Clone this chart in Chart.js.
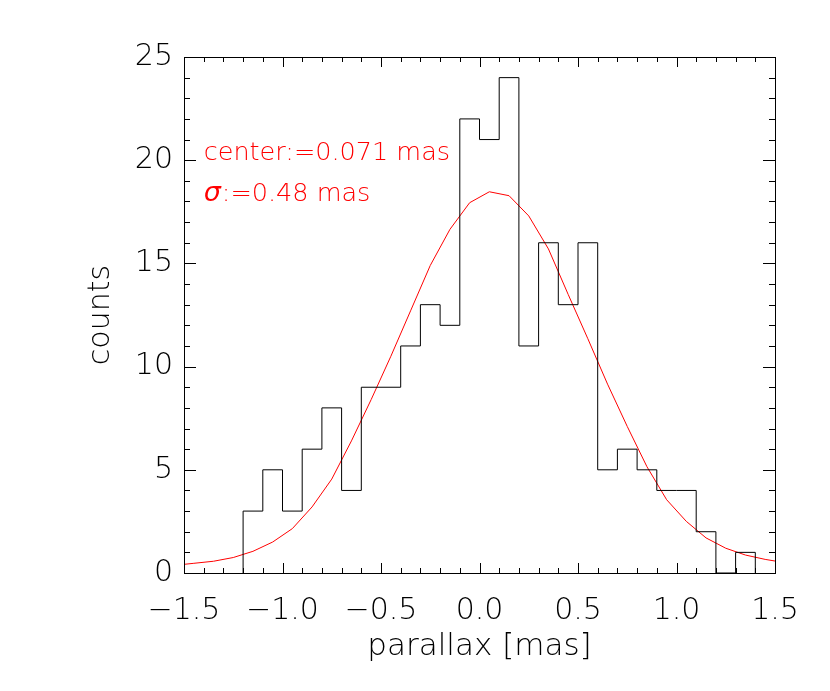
<!DOCTYPE html>
<html>
<head>
<meta charset="utf-8">
<script src="https://cdn.jsdelivr.net/npm/chart.js@4"></script>
<style>
  body { margin: 0; background: #fff; }
  #wrap { width: 830px; height: 691px; }
</style>
</head>
<body>
<div id="wrap"><canvas id="hist" width="830" height="691"></canvas></div>
<script>
// Histogram of parallaxes (bin width 0.1 mas)
const binEdges = [-1.2, -1.1, -1.0, -0.9, -0.8, -0.7, -0.6, -0.5, -0.4, -0.3, -0.2, -0.1,
  0.0, 0.1, 0.2, 0.3, 0.4, 0.5, 0.6, 0.7, 0.8, 0.9, 1.0, 1.1, 1.2, 1.3, 1.4];
const binCounts = [3, 5, 3, 6, 8, 4, 9, 9, 11, 13, 12, 22, 21, 24, 11, 16, 13, 16, 5, 6, 5, 4, 4, 2, 0, 1];

// Gaussian fit curve
const fitX = [-1.5, -1.45, -1.35, -1.25, -1.15, -1.05, -0.95, -0.85, -0.75, -0.65, -0.55, -0.45,
  -0.35, -0.25, -0.15, -0.05, 0.05, 0.15, 0.25, 0.35, 0.45, 0.55, 0.65, 0.75, 0.85, 0.95,
  1.05, 1.15, 1.25, 1.35, 1.45, 1.5];
const fitY = [0.42, 0.47, 0.57, 0.75, 1.05, 1.5, 2.15, 3.2, 4.55, 6.4, 8.4, 10.5,
  12.7, 14.9, 16.65, 17.94, 18.47, 18.28, 17.3, 15.7, 13.5, 11.35, 9.15, 7.1, 5.15, 3.55,
  2.5, 1.7, 1.2, 0.87, 0.66, 0.58];

const xRange = [-1.5, 1.5];
const yRange = [0, 25];
const fitLabels = ['center:=0.071 mas', ':=0.48 mas'];

const FONT = "'DejaVu Sans', sans-serif";

// step outline: rise at first edge, drop after last bin
const histPoints = [{ x: binEdges[0], y: 0 }];
binCounts.forEach((c, i) => histPoints.push({ x: binEdges[i], y: c }));
histPoints.push({ x: binEdges[binEdges.length - 1], y: binCounts[binCounts.length - 1] });
histPoints.push({ x: binEdges[binEdges.length - 1], y: 0 });

const fitPoints = fitX.map((x, i) => ({ x: x, y: fitY[i] }));

// IDL-style frame with inward ticks on all four sides
const framePlugin = {
  id: 'frame',
  afterDatasetsDraw(chart) {
    const { ctx, chartArea: a, scales: { x, y } } = chart;
    ctx.save();
    ctx.strokeStyle = '#000';
    ctx.lineWidth = 1;
    ctx.strokeRect(Math.round(a.left) + 0.5, Math.round(a.top) + 0.5,
      Math.round(a.right - a.left), Math.round(a.bottom - a.top));
    ctx.beginPath();
    for (let i = 0; i <= 30; i++) {
      const v = x.min + i * 0.1;
      const px = Math.round(x.getPixelForValue(v)) + 0.5;
      const len = i % 5 === 0 ? 10 : 5;
      ctx.moveTo(px, a.bottom); ctx.lineTo(px, a.bottom - len);
      ctx.moveTo(px, a.top); ctx.lineTo(px, a.top + len);
    }
    for (let i = 0; i <= 25; i++) {
      const py = Math.round(y.getPixelForValue(y.min + i)) + 0.5;
      const len = i % 5 === 0 ? 12 : 6;
      ctx.moveTo(a.left, py); ctx.lineTo(a.left + len, py);
      ctx.moveTo(a.right, py); ctx.lineTo(a.right - len, py);
    }
    ctx.stroke();

    // fit annotation
    ctx.fillStyle = '#ff0000';
    ctx.textBaseline = 'alphabetic';
    ctx.textAlign = 'left';
    ctx.font = '200 25.5px ' + FONT;
    const tx = x.getPixelForValue(-1.4);
    ctx.fillText(fitLabels[0], tx, y.getPixelForValue(20));
    ctx.font = 'italic 300 27px ' + FONT;
    ctx.fillText('\u03c3', tx, y.getPixelForValue(18));
    const sw = ctx.measureText('\u03c3').width;
    ctx.font = '200 25.5px ' + FONT;
    ctx.fillText(fitLabels[1], tx + sw + 1, y.getPixelForValue(18));
    ctx.restore();
  }
};

new Chart(document.getElementById('hist'), {
  type: 'line',
  data: {
    datasets: [
      {
        label: 'counts',
        data: histPoints,
        stepped: 'before',
        borderColor: '#000',
        borderWidth: 1,
        pointRadius: 0,
        fill: false
      },
      {
        label: 'fit',
        data: fitPoints,
        borderColor: '#ff0000',
        borderWidth: 1,
        pointRadius: 0,
        tension: 0,
        fill: false
      }
    ]
  },
  options: {
    responsive: false,
    animation: false,
    events: [],
    layout: { padding: { left: 0, top: 57, right: 55, bottom: 0 } },
    plugins: {
      legend: { display: false },
      tooltip: { enabled: false }
    },
    scales: {
      x: {
        type: 'linear',
        min: xRange[0],
        max: xRange[1],
        grid: { display: false, drawTicks: false },
        border: { display: false },
        ticks: {
          stepSize: 0.5,
          padding: 20,
          color: '#000',
          font: { family: FONT, size: 30, weight: 200 },
          callback: v => (v < 0 ? '\u2212' : '') + Math.abs(v).toFixed(1)
        },
        title: {
          display: true,
          text: 'parallax [mas]',
          color: '#000',
          font: { family: FONT, size: 31, weight: 200 },
          padding: { top: 0, bottom: 25 }
        },
        afterFit: s => { s.height = 118; }
      },
      y: {
        type: 'linear',
        min: yRange[0],
        max: yRange[1],
        grid: { display: false, drawTicks: false },
        border: { display: false },
        ticks: {
          stepSize: 5,
          padding: 11,
          color: '#000',
          font: { family: FONT, size: 30, weight: 200 }
        },
        title: {
          display: true,
          text: 'counts',
          color: '#000',
          font: { family: FONT, size: 30, weight: 200 },
          padding: { top: 83, bottom: 0 }
        },
        afterFit: s => { s.width = 184; }
      }
    }
  },
  plugins: [framePlugin]
});
</script>
</body>
</html>
